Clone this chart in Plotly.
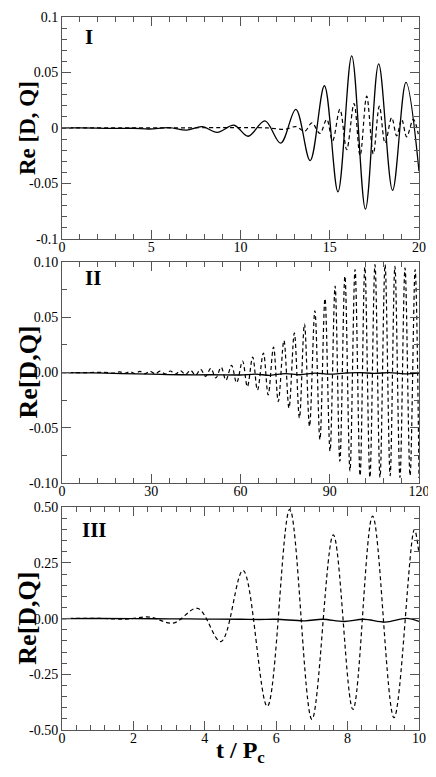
import plotly.graph_objects as go

# panel I  (t / Pc from 0 to 20)
p1_solid_t = [0, 1, 2, 3, 4, 4.9, 6.0, 6.97, 7.85, 8.7, 9.64, 10.43, 11.37, 12.25, 13.1,
              13.9, 14.7, 15.46, 16.23, 17.0, 17.74, 18.52, 19.27, 20.0]
p1_solid_v = [0, 0, -0.0002, -0.0005, -0.0003, -0.001, 0.0003, -0.002, 0.0012, -0.004, 0.0024,
              -0.0075, 0.0063, -0.0137, 0.0167, -0.0295, 0.038, -0.0577, 0.0649, -0.0732,
              0.0577, -0.0562, 0.041, -0.039]
p1_dash_t = [0, 6, 10, 11.5, 12.5, 13.1, 13.6, 14.0, 14.45, 14.83, 15.16, 15.57, 15.95, 16.36,
             16.7, 17.07, 17.44, 17.78, 18.1, 18.47, 18.75, 19.03, 19.31, 19.68, 19.96]
p1_dash_v = [0, 0, 0.0003, 0.0, -0.0012, 0.0012, -0.003, 0.0045, -0.005, 0.0077, -0.0116,
             0.0167, -0.0196, 0.022, -0.025, 0.0286, -0.0235, 0.0196, -0.0137, 0.0092, -0.0071,
             0.0077, -0.008, 0.0077, -0.0057]

# panel II  (t / Pc from 0 to 120)
p2_solid_t = [0, 10, 20, 30, 40, 50, 60, 65, 70, 75, 80, 85, 90, 95, 100, 105, 110, 115, 120]
p2_solid_v = [0, -0.0003, -0.001, -0.0015, -0.002, -0.002, -0.0022, -0.0015, -0.0025, -0.001,
              -0.002, -0.0005, -0.0015, -0.0005, 0.0, -0.0008, 0.0, -0.0012, -0.0005]
p2_dash_t = [0, 8, 14, 17.7, 19.4, 21.1, 22.8, 24.5, 26.2, 27.9, 29.6, 31.3, 33.0, 34.7, 36.4,
             38.1, 39.8, 41.5, 43.2, 44.9, 46.6, 48.3, 50.0, 51.7, 53.5, 55.1, 57.0, 58.7, 60.7,
             62.3, 64.1, 65.7, 67.7, 69.3, 71.1, 72.7, 74.6, 76.3, 78.1, 79.8, 81.5, 83.2, 85.0,
             86.7, 88.4, 90.1, 91.8, 93.4, 95.1, 96.8, 98.5, 100.2, 101.8, 103.5, 105.2, 106.9,
             108.6, 110.3, 111.9, 113.6, 115.3, 117.0, 118.7, 120.0]
p2_dash_v = [0, 0, 0.0002, -0.0005, 0.0006, -0.0007, 0.0008, -0.0009, 0.001, -0.001, 0.0011,
             -0.0012, 0.0012, -0.0013, 0.0014, -0.0015, 0.0016, -0.0018, 0.002, -0.0024, 0.0028,
             -0.0034, 0.0038, -0.0048, 0.0048, -0.0069, 0.0065, -0.0092, 0.0104, -0.0128, 0.014,
             -0.0158, 0.0176, -0.0202, 0.023, -0.0262, 0.0289, -0.032, 0.0357, -0.041, 0.0437,
             -0.0485, 0.0557, -0.0604, 0.0667, -0.0708, 0.078, -0.080, 0.0869, -0.0887, 0.0929,
             -0.093, 0.0952, -0.0946, 0.0973, -0.0946, 0.0973, -0.093, 0.0958, -0.0946, 0.0943,
             -0.093, 0.0929, -0.095]

# panel III  (t / Pc from 0 to 10)
p3_solid_t = [0, 1, 2, 3, 4, 5.0, 5.5, 6.0, 6.8, 7.3, 7.9, 8.45, 9.05, 9.65, 10.0]
p3_solid_v = [0, 0.0005, 0, -0.001, -0.002, -0.003, -0.004, -0.003, -0.01, -0.003, -0.013,
              -0.003, -0.016, 0.001, -0.013]
p3_dash_t = [0, 1.0, 1.8, 2.45, 3.12, 3.8, 4.45, 5.07, 5.75, 6.38, 7.0, 7.6, 8.15, 8.7, 9.3,
             9.87, 10.0]
p3_dash_v = [0, 0.001, -0.002, 0.007, -0.02, 0.046, -0.103, 0.216, -0.394, 0.49, -0.452, 0.376,
             -0.408, 0.46, -0.445, 0.399, 0.29]

panels = [
    dict(solid=(p1_solid_t, p1_solid_v), dash=(p1_dash_t, p1_dash_v),
         xr=[0, 20], xd=5, xm=1, yr=[-0.1, 0.1], yd=0.05, ym=0.01,
         yvals=[-0.1, -0.05, 0, 0.05, 0.1], ytext=['-0.1', '-0.05', '0', '0.05', '0.1'],
         dom=[0.6889, 1.0], label='I', ytitle='Re [D, Q]', tsize=23, lab=(0.076, 0.912)),
    dict(solid=(p2_solid_t, p2_solid_v), dash=(p2_dash_t, p2_dash_v),
         xr=[0, 120], xd=30, xm=6, yr=[-0.1, 0.1], yd=0.05, ym=0.025,
         yvals=[-0.1, -0.05, 0, 0.05, 0.1], ytext=['-0.10', '-0.05', '0.00', '0.05', '0.10'],
         dom=[0.3458, 0.6569], label='II', ytitle='Re[D,Q]', tsize=26, lab=(0.087, 0.924)),
    dict(solid=(p3_solid_t, p3_solid_v), dash=(p3_dash_t, p3_dash_v),
         xr=[0, 10], xd=2, xm=0.4, yr=[-0.5, 0.5], yd=0.25, ym=0.05,
         yvals=[-0.5, -0.25, 0, 0.25, 0.5], ytext=['-0.50', '-0.25', '0.00', '0.25', '0.50'],
         dom=[0.0, 0.3125], label='III', ytitle='Re[D,Q]', tsize=26, lab=(0.091, 0.897)),
]

serif = 'Liberation Serif'
axcol = '#555555'

fig = go.Figure()
annotations = []
for i, p in enumerate(panels, start=1):
    xa = 'x' if i == 1 else f'x{i}'
    ya = 'y' if i == 1 else f'y{i}'
    fig.add_trace(go.Scatter(x=p['solid'][0], y=p['solid'][1], mode='lines', xaxis=xa, yaxis=ya,
                             line=dict(color='black', width=1.3, shape='spline', smoothing=1.0),
                             showlegend=False))
    fig.add_trace(go.Scatter(x=p['dash'][0], y=p['dash'][1], mode='lines', xaxis=xa, yaxis=ya,
                             line=dict(color='black', width=1.2, dash='4px,3px', shape='spline',
                                       smoothing=1.0),
                             showlegend=False))
    common = dict(showline=True, mirror='allticks', linecolor=axcol, linewidth=1,
                  ticks='inside', ticklen=9, tickwidth=1, tickcolor=axcol,
                  showgrid=False, zeroline=False,
                  tickfont=dict(family=serif, size=14, color='black'))
    fig.update_layout({
        ('xaxis' if i == 1 else f'xaxis{i}'): dict(
            common, range=p['xr'], dtick=p['xd'], tick0=0, anchor=ya, domain=[0, 1],
            ticklabelstandoff=-5,
            minor=dict(ticks='inside', ticklen=5, dtick=p['xm'], tick0=0, tickcolor=axcol)),
        ('yaxis' if i == 1 else f'yaxis{i}'): dict(
            common, range=p['yr'], tickvals=p['yvals'], ticktext=p['ytext'], anchor=xa,
            domain=p['dom'],
            minor=dict(ticks='inside', ticklen=5, dtick=p['ym'], tick0=0, tickcolor=axcol)),
    })
    annotations.append(dict(text=f"<b>{p['label']}</b>", xref=f'{xa} domain', yref=f'{ya} domain',
                            x=p['lab'][0], y=p['lab'][1], xanchor='center', yanchor='middle',
                            showarrow=False, font=dict(family=serif, size=21, color='black')))
    annotations.append(dict(text=f"<b>{p['ytitle']}</b>", xref='paper', yref=f'{ya} domain',
                            x=-0.095, y=0.5, xanchor='center', yanchor='middle', textangle=-90,
                            showarrow=False,
                            font=dict(family=serif, size=p['tsize'], color='black')))

annotations.append(dict(text='<b>t / P<sub>c</sub></b>', xref='paper', yref='paper',
                        x=0.5, y=-0.031, xanchor='center', yanchor='middle', showarrow=False,
                        font=dict(family=serif, size=24, color='black')))

# page body has an 8px margin, so the figure is sized and offset to fit the window
fig.update_layout(width=428, height=769, margin=dict(l=54, r=17, t=2, b=47),
                  plot_bgcolor='white', paper_bgcolor='white', annotations=annotations)
fig.write_html('out.html')
